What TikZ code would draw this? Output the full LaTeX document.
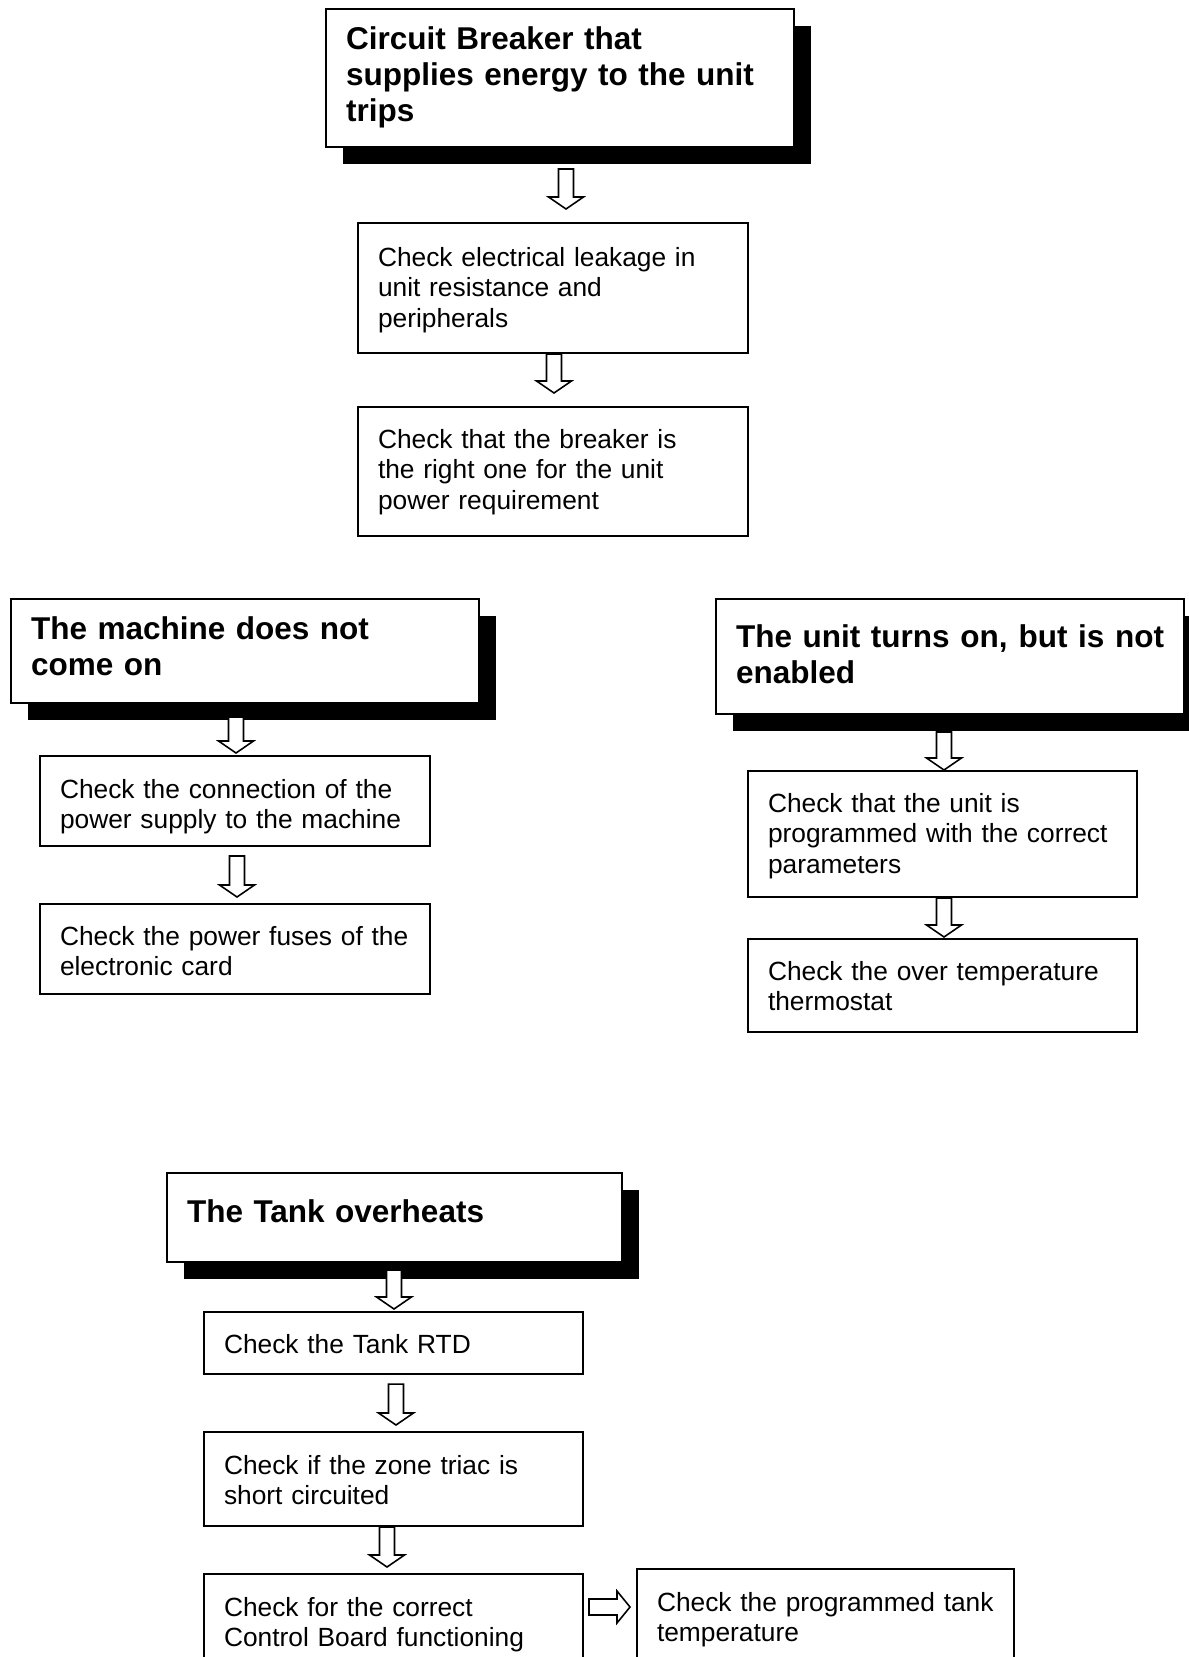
\documentclass[tikz,border=0pt]{standalone}
\usepackage{fontspec}
\setmainfont{Liberation Sans}
\usetikzlibrary{calc,shadows}

\newdimen\px
\px=0.4444pt

% hollow block arrow going down: from, to, x, gap below from, gap above to
\newcommand{\flowdown}[5]{%
  \path (#3,0 |- #1.south) ++(0,#4) coordinate (fa-top);
  \path (#3,0 |- #2.north) ++(0,-#5) coordinate (fa-tip);
  \draw[hollow] ($(fa-top)+(-7.5,0)$) -- ($(fa-tip)+(-7.5,-12)$) -- ($(fa-tip)+(-17.5,-12)$) -- (fa-tip)
    -- ($(fa-tip)+(17.5,-12)$) -- ($(fa-tip)+(7.5,-12)$) -- ($(fa-top)+(7.5,0)$) -- cycle;
}
% same thing going right: from, to, y, gap right of from, gap left of to
\newcommand{\flowright}[5]{%
  \path (#1.east |- 0,#3) ++(#4,0) coordinate (fa-top);
  \path (#2.west |- 0,#3) ++(-#5,0) coordinate (fa-tip);
  \draw[hollow] ($(fa-top)+(0,-8)$) -- ($(fa-tip)+(-13,-8)$) -- ($(fa-tip)+(-13,-16)$) -- (fa-tip)
    -- ($(fa-tip)+(-13,16)$) -- ($(fa-tip)+(-13,8)$) -- ($(fa-top)+(0,8)$) -- cycle;
}

\begin{document}
\begin{tikzpicture}[x=0.4444pt, y=-0.4444pt,
    % width, height, first baseline below the top edge (all in px)
    boxsize/.code n args={3}{%
      \pgfmathsetlengthmacro\boxtw{(#1-40)*\px}%
      \pgfmathsetlengthmacro\boxth{#3*\px}%
      \pgfmathsetlengthmacro\boxtd{(#2-#3)*\px}%
      \edef\boxopts{\noexpand\pgfkeysalso{text width=\boxtw, text height=\boxth, text depth=\boxtd}}\boxopts},
    checkbox/.style={draw, line width=0.9pt, fill=white, anchor=north west, align=left,
      inner xsep=20\px, inner ysep=0pt, font=\fontsize{11.7}{13.7}\selectfont},
    faultbox/.style={checkbox, font=\bfseries\fontsize{14}{16.1}\selectfont,
      general shadow={fill=black, shadow xshift=17\px, shadow yshift=-17\px}},
    hollow/.style={draw, line width=0.7pt, fill=white, line join=miter}]
	\useasboundingbox (0,0) rectangle (1189,1657);

	%Breaker trips
	\node[faultbox, boxsize={468}{138}{40}] (cb) at (325,8) {Circuit Breaker that\\supplies energy to the unit\\trips};
	\node[checkbox, boxsize={390}{130}{43}] (leak) at (357,222) {Check electrical leakage in\\unit resistance and\\peripherals};
	\node[checkbox, boxsize={390}{129}{41}] (breaker) at (357,406) {Check that the breaker is\\the right one for the unit\\power requirement};

	%No power
	\node[faultbox, boxsize={468}{104}{40}] (nostart) at (10,598) {The machine does not\\come on};
	\node[checkbox, boxsize={390}{90}{42}] (supply) at (39,755) {Check the connection of the\\power supply to the machine};
	\node[checkbox, boxsize={390}{90}{41}] (fuses) at (39,903) {Check the power fuses of the\\electronic card};

	%Not enabled
	\node[faultbox, align=justify, boxsize={468}{115}{48}] (noenable) at (715,598) {The unit turns on, but is not enabled};
	\node[checkbox, boxsize={389}{126}{41}] (params) at (747,770) {Check that the unit is\\programmed with the correct\\parameters};
	\node[checkbox, boxsize={389}{93}{41}] (thermo) at (747,938) {Check the over temperature\\thermostat};

	%Tank too hot
	\node[faultbox, boxsize={455}{89}{49}] (overheat) at (166,1172) {The Tank overheats};
	\node[checkbox, boxsize={379}{62}{41}] (rtd) at (203,1311) {Check the Tank RTD};
	\node[checkbox, boxsize={379}{94}{42}] (triac) at (203,1431) {Check if the zone triac is\\short circuited};
	\node[checkbox, boxsize={379}{102}{42}] (board) at (203,1573) {Check for the correct\\Control Board functioning};
	\node[checkbox, boxsize={377}{102}{42}] (tanktemp) at (636,1568) {Check the programmed tank\\temperature};

	%arrows
	\flowdown{cb}{leak}{566}{21}{13}
	\flowdown{leak}{breaker}{554}{0}{13}
	\flowdown{nostart}{supply}{236}{13}{2}
	\flowdown{supply}{fuses}{237}{9}{6}
	\flowdown{noenable}{params}{944}{17}{0}
	\flowdown{params}{thermo}{944}{0}{1}
	\flowdown{overheat}{rtd}{394}{7}{2}
	\flowdown{rtd}{triac}{396}{9}{6}
	\flowdown{triac}{board}{387}{0}{6}
	\flowright{board}{tanktemp}{1607}{5}{6}
\end{tikzpicture}
\end{document}
